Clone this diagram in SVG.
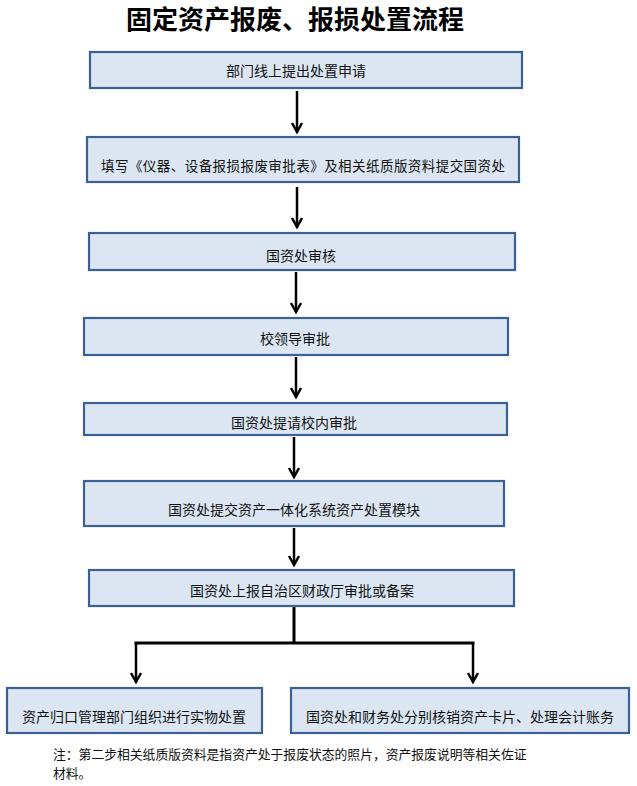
<svg xmlns="http://www.w3.org/2000/svg" width="637" height="786" viewBox="0 0 637 786">
<defs>
<style>
.box{fill:#dce6f2;stroke:#3a6191;stroke-width:2.2}
.t{font-family:"Noto Sans CJK SC","Liberation Sans",sans-serif;font-size:14px;fill:#111;text-anchor:middle;dominant-baseline:central}
.ln{stroke:#000;stroke-width:2.5;fill:none}
.title{font-family:"Noto Sans CJK SC",sans-serif;font-size:26px;font-weight:bold;fill:#000;text-anchor:middle;dominant-baseline:central}
.note{font-family:"Noto Sans CJK SC",sans-serif;font-size:12.8px;fill:#111;dominant-baseline:central}
</style>
<marker id="ah" markerUnits="userSpaceOnUse" markerWidth="16" markerHeight="16" viewBox="-12 -8 16 16" refX="0" refY="0" orient="auto">
<path d="M-9,-5 L0,0 L-9,5" fill="none" stroke="#000" stroke-width="2.5"/>
</marker>
</defs>
<rect width="637" height="786" fill="#fff"/>
<text class="title" x="295" y="17">固定资产报废、报损处置流程</text>

<g id="n1"><rect class="box" x="90" y="52" width="432" height="36"/><text class="t" x="296" y="70">部门线上提出处置申请</text></g>
<g id="n2"><rect class="box" x="87" y="137" width="432" height="45"/><text class="t" x="303" y="165" style="font-size:13.5px" textLength="404" lengthAdjust="spacing">填写《仪器、设备报损报废审批表》及相关纸质版资料提交国资处</text></g>
<g id="n3"><rect class="box" x="89" y="233" width="426" height="37"/><text class="t" x="301" y="255">国资处审核</text></g>
<g id="n4"><rect class="box" x="84" y="318" width="424" height="37"/><text class="t" x="295" y="338">校领导审批</text></g>
<g id="n5"><rect class="box" x="84" y="403" width="423" height="32"/><text class="t" x="294" y="422">国资处提请校内审批</text></g>
<g id="n6"><rect class="box" x="84" y="481" width="420" height="45"/><text class="t" x="294" y="509">国资处提交资产一体化系统资产处置模块</text></g>
<g id="n7"><rect class="box" x="89" y="570" width="425" height="36"/><text class="t" x="302" y="590">国资处上报自治区财政厅审批或备案</text></g>
<g id="n8"><rect class="box" x="7" y="688" width="255" height="45"/><text class="t" x="134" y="716">资产归口管理部门组织进行实物处置</text></g>
<g id="n9"><rect class="box" x="291" y="688" width="338" height="45"/><text class="t" x="460" y="716">国资处和财务处分别核销资产卡片、处理会计账务</text></g>

<g id="connectors">
<line class="ln" x1="297" y1="91" x2="297" y2="132" marker-end="url(#ah)"/>
<line class="ln" x1="297" y1="187" x2="297" y2="227" marker-end="url(#ah)"/>
<line class="ln" x1="296" y1="272" x2="296" y2="312" marker-end="url(#ah)"/>
<line class="ln" x1="296" y1="357" x2="296" y2="397" marker-end="url(#ah)"/>
<line class="ln" x1="294" y1="437" x2="294" y2="477" marker-end="url(#ah)"/>
<line class="ln" x1="294" y1="528" x2="294" y2="565" marker-end="url(#ah)"/>
<polyline class="ln" points="294,607 294,643" style="stroke-width:3"/>
<line class="ln" x1="134.5" y1="643" x2="474.5" y2="643" style="stroke-width:3"/>
<line class="ln" x1="136" y1="643" x2="136" y2="682" marker-end="url(#ah)"/>
<line class="ln" x1="473" y1="643" x2="473" y2="682" marker-end="url(#ah)"/>
</g>

<text class="note" x="53" y="753">注：第二步相关纸质版资料是指资产处于报废状态的照片，资产报废说明等相关佐证</text>
<text class="note" x="53" y="772">材料。</text>
</svg>
